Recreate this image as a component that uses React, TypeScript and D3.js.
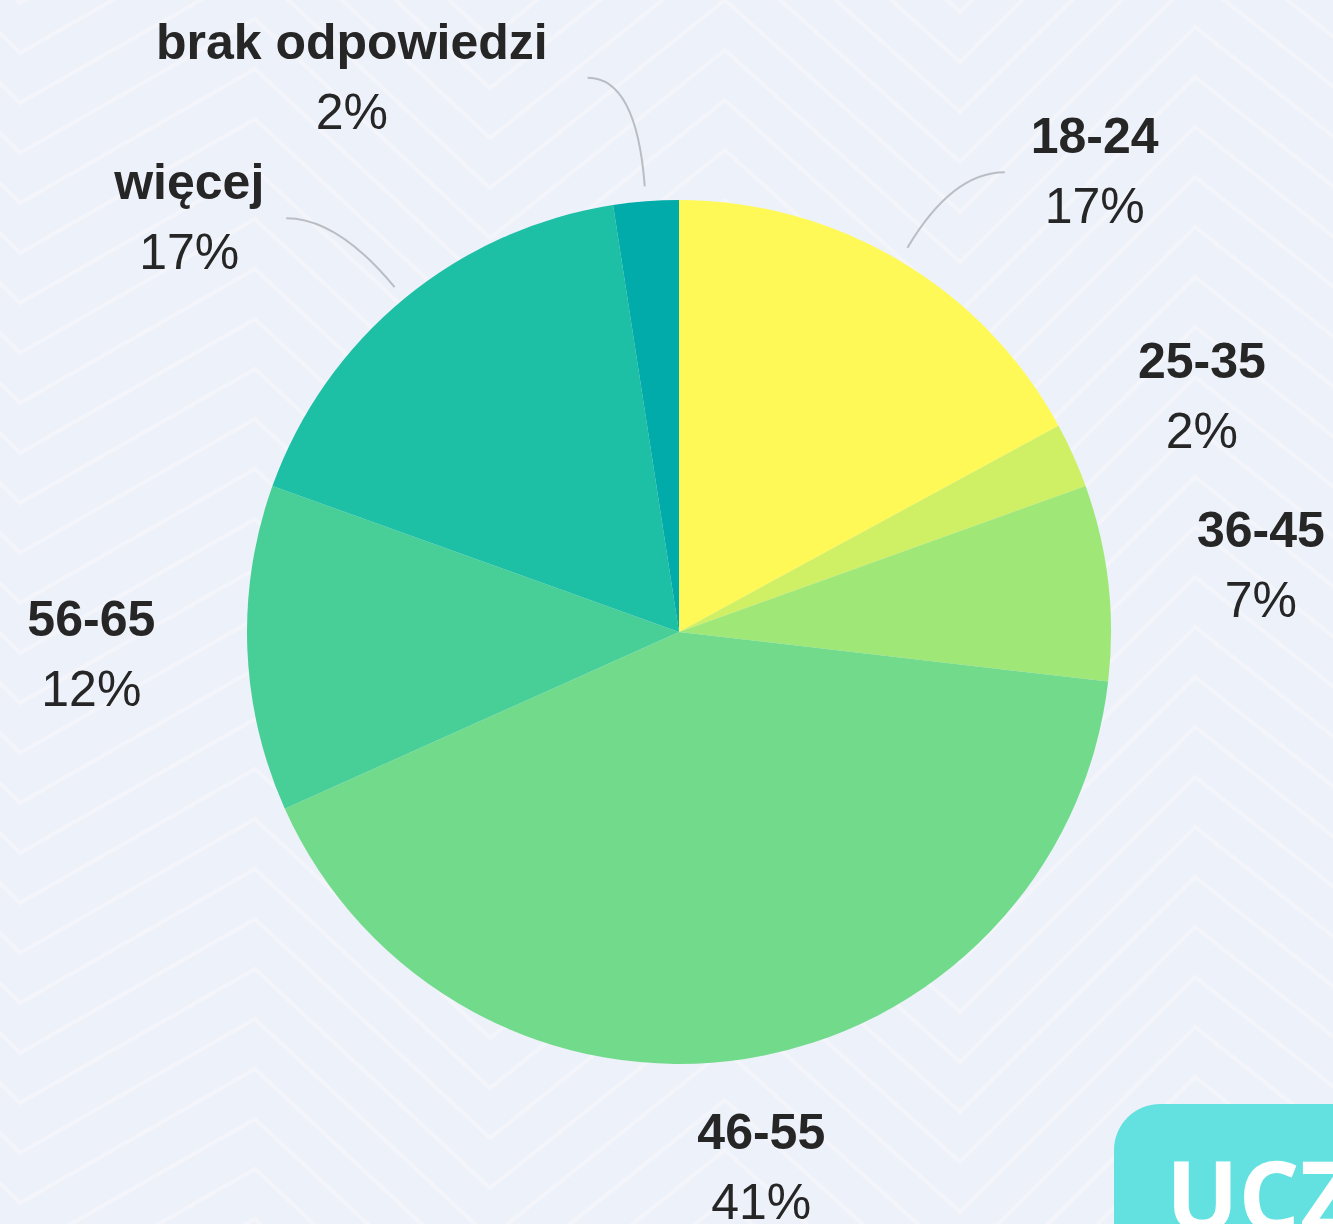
import React from "react";
import * as d3 from "d3";

// respondents per age group (n = 41)
const categories = ["18-24", "25-35", "36-45", "46-55", "56-65", "więcej", "brak odpowiedzi"];
const counts = [7, 1, 3, 17, 5, 7, 1];
const percentLabels = ["17%", "2%", "7%", "41%", "12%", "17%", "2%"];
const colors = ["#fff957", "#cff064", "#9fe777", "#72db8b", "#48cf98", "#1dbfa5", "#00aba9"];

const W = 1333, H = 1224;
const cx = 679, cy = 632, R = 432;

// label layout: angle shift from the slice middle (deg), distance from centre, connector gap
const labelShift = [12.4, 1.4, 1.7, 0.3, -1.6, -11.4, -26.9];
const labelDist = [608, 567, 584, 558, 589, 631, 630];
const connectorGap = [26, 0, 0, 0, 0, 22, 40];

const FONT = "'Liberation Sans', Arial, sans-serif";
const FS = 50;

// background chevron outline (x of each bend, y relative to first trough)
const bendX = [-215, 20, 255, 490, 725, 960, 1195, 1430];
const bendY = [-235, 0, -134, 85, -103, 109, -126, 60];

function measure(txt: string) {
	const c = document.createElement("canvas").getContext("2d");
	if (!c) return txt.length * FS * 0.55;
	c.font = "bold " + FS + "px " + FONT;
	return c.measureText(txt).width;
}

export default function App() {

	const pie = d3.pie<number>().sort(null).value(d => d);
	const arcs = pie(counts);
	const arc = d3.arc<d3.PieArcDatum<number>>().innerRadius(0).outerRadius(R);

	const polar = (ang: number, r: number) => [Math.sin(ang) * r, -Math.cos(ang) * r];

	const line = d3.line<number>().x((d, i) => bendX[i]).y(d => d);
	const chevrons = d3.range(-6, 32).map(k => line(bendY.map(y => y + 3 + k * 50)) || "");

	return (
		<svg width={W} height={H} style={{ position: "absolute", left: 0, top: 0 }}>
			<rect width={W} height={H} fill="#edf1f9" />
			<g fill="none" stroke="#f3f5fb" strokeWidth={4}>
				{chevrons.map((d, i) => <path key={i} d={d} />)}
			</g>

			<g transform={"translate(" + cx + "," + cy + ")"}>
				{arcs.map((a, i) => (
					<path key={i} d={arc(a) || ""} fill={colors[i]} />
				))}

				{arcs.map((a, i) => {
					const mid = (a.startAngle + a.endAngle) / 2;
					const ang = mid + labelShift[i] * Math.PI / 180;
					const [lx, ly] = polar(ang, labelDist[i]);
					let conn = null;
					if (connectorGap[i] > 0) {
						const [sx, sy] = polar(mid, R + 15);
						const right = lx > 0;
						const half = measure(categories[i]) / 2 + connectorGap[i];
						const ex = right ? lx - half : lx + half;
						const ey = ly - 16;
						const t = (ey - sy) / (-Math.cos(mid));
						const qx = sx + Math.sin(mid) * t;
						conn = (
							<path d={"M" + sx + "," + sy + " Q" + qx + "," + ey + " " + ex + "," + ey}
								fill="none" stroke="#babdc4" strokeWidth={2} />
						);
					}
					return (
						<g key={"l" + i}>
							{conn}
							<text x={lx} y={ly - 35} textAnchor="middle" fontFamily={FONT} fontSize={FS}
								fontWeight="bold" fill="#262626">{categories[i]}</text>
							<text x={lx} y={ly + 35} textAnchor="middle" fontFamily={FONT} fontSize={FS}
								fill="#262626">{percentLabels[i]}</text>
						</g>
					);
				})}
			</g>

			<rect x={1114} y={1104} width={300} height={200} rx={46} fill="#63e1e0" />
			<text x={1166} y={1231} fontFamily="'Open Sans', sans-serif" fontWeight="bold" fontSize={96}
				fill="#ffffff">UCZ</text>
		</svg>
	);
}
